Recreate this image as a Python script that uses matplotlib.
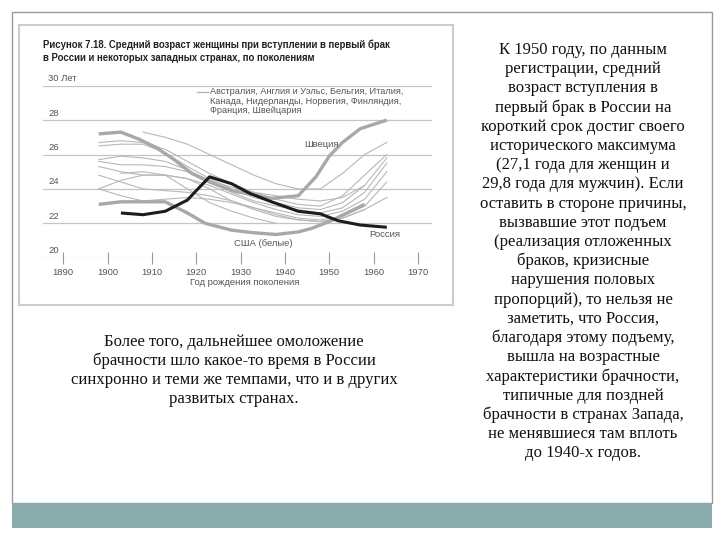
import matplotlib
matplotlib.use("Agg")
import matplotlib.pyplot as plt
from matplotlib.patches import Rectangle
from matplotlib.transforms import blended_transform_factory

W, H = 720, 540

# --- данные ---
years_full = [1898, 1903, 1908, 1913, 1918, 1923, 1928, 1933, 1938, 1943, 1948, 1953, 1958, 1963]

thin_lines = [
    ([1908, 1913, 1918, 1923, 1928, 1933, 1938, 1943, 1948, 1953, 1958, 1963],
     [27.3, 27.0, 26.6, 26.0, 25.4, 24.8, 24.3, 24.0, 24.0, 24.9, 26.0, 26.7]),
    (years_full, [26.7, 26.8, 26.7, 26.3, 25.6, 24.9, 24.3, 23.8, 23.4, 23.1, 23.0, 23.6, 24.8, 26.0]),
    (years_full, [26.5, 26.6, 26.6, 26.1, 25.3, 24.6, 24.0, 23.5, 23.2, 22.9, 22.8, 23.2, 24.2, 25.8]),
    (years_full, [25.7, 25.9, 25.8, 25.6, 25.1, 24.5, 23.8, 23.3, 23.0, 22.8, 22.6, 22.9, 23.8, 25.5]),
    (years_full, [25.3, 25.0, 24.8, 24.8, 24.6, 24.2, 23.7, 23.2, 22.8, 22.5, 22.4, 22.7, 23.4, 25.0]),
    (years_full, [24.8, 24.4, 24.0, 23.9, 23.8, 23.6, 23.3, 22.9, 22.6, 22.3, 22.2, 22.4, 23.0, 24.4]),
    (years_full, [24.0, 24.5, 24.8, 24.8, 24.6, 24.0, 23.3, 22.8, 22.4, 22.2, 22.1, 22.3, 22.8, 23.5]),
    (years_full[:-1], [24.0, 23.6, 23.3, 23.4, 23.5, 23.4, 23.2, 22.9, 22.5, 22.2, 22.1, 22.3, 22.8]),
    ([1903, 1908, 1913, 1918, 1923, 1928, 1933, 1938],
     [24.9, 25.0, 24.8, 24.0, 23.2, 22.7, 22.3, 22.0]),
    (years_full[:-1], [25.6, 25.4, 25.4, 25.3, 25.0, 24.5, 24.1, 23.8, 23.6, 23.4, 23.3, 23.5, 24.2]),
]

sweden_years = [1898, 1903, 1907, 1911, 1915, 1919, 1923, 1928, 1932, 1937, 1943, 1947, 1950, 1953, 1957, 1963]
sweden_vals = [27.2, 27.3, 26.9, 26.4, 25.7, 24.9, 24.4, 23.9, 23.7, 23.45, 23.6, 24.7, 25.9, 26.7, 27.5, 28.0]

usa_years = [1898, 1903, 1913, 1918, 1922, 1928, 1933, 1938, 1943, 1946, 1950, 1954, 1958]
usa_vals = [23.1, 23.25, 23.25, 22.6, 22.0, 21.6, 21.45, 21.35, 21.5, 21.7, 22.1, 22.6, 23.1]

russia_years = [1903, 1908, 1913, 1918, 1920, 1923, 1928, 1932, 1937, 1943, 1948, 1952, 1957, 1963]
russia_vals = [22.6, 22.5, 22.7, 23.35, 23.9, 24.7, 24.3, 23.75, 23.25, 22.7, 22.55, 22.15, 21.9, 21.77]

y_levels = [20, 22, 24, 26, 28, 30]
y_labels = ["20", "22", "24", "26", "28", "30 Лет"]
x_ticks = [1890, 1900, 1910, 1920, 1930, 1940, 1950, 1960, 1970]

legend_lines = ["Австралия, Англия и Уэльс, Бельгия, Италия,",
                "Канада, Нидерланды, Норвегия, Финляндия,",
                "Франция, Швейцария"]

right_text = [
    "К 1950 году, по данным",
    "регистрации, средний",
    "возраст вступления в",
    "первый брак в России на",
    "короткий срок достиг своего",
    "исторического максимума",
    "(27,1 года для женщин и",
    "29,8 года для мужчин). Если",
    "оставить в стороне причины,",
    "вызвавшие этот подъем",
    "(реализация отложенных",
    "браков, кризисные",
    "нарушения половых",
    "пропорций), то нельзя не",
    "заметить, что Россия,",
    "благодаря этому подъему,",
    "вышла на возрастные",
    "характеристики брачности,",
    "типичные для поздней",
    "брачности в странах Запада,",
    "не менявшиеся там вплоть",
    "до 1940-х годов.",
]
left_text = [
    "Более того, дальнейшее омоложение",
    "брачности шло какое-то время в России",
    "синхронно и теми же темпами, что и в других",
    "развитых странах.",
]

plt.rcParams['font.family'] = ['Liberation Sans', 'DejaVu Sans']

fig = plt.figure(figsize=(W / 100, H / 100), dpi=100)

def fx(px):
    return px / W

def fy(py):
    return 1 - py / H

# рамка слайда и полоса снизу
fig.patches.append(Rectangle((fx(12), fy(503)), fx(700), 491 / H, transform=fig.transFigure,
                             fill=False, edgecolor='#9a9a9a', lw=1.0))
fig.patches.append(Rectangle((fx(12), fy(528)), fx(700), 25 / H, transform=fig.transFigure,
                             facecolor='#8aabab', edgecolor='none'))
# рамка рисунка
fig.patches.append(Rectangle((fx(19), fy(305)), fx(434), 280 / H, transform=fig.transFigure,
                             fill=False, edgecolor='#cccccc', lw=1.5))

# оси графика
ax_l, ax_r, ax_b, ax_t = 42.7, 432, 257.7, 85.7
ax = fig.add_axes([fx(ax_l), fy(ax_b), (ax_r - ax_l) / W, (ax_b - ax_t) / H])
ax.set_xlim(1885.35, 1973.2)
ax.set_ylim(20, 30)
for s in ax.spines.values():
    s.set_visible(False)
ax.patch.set_alpha(0)

for v in y_levels:
    ax.axhline(v, color='#c4c4c4', lw=0.9, zorder=1)

trans = blended_transform_factory(ax.transAxes, ax.transData)
for v, lab in zip(y_levels, y_labels):
    ax.annotate(lab, (0.014, v), xycoords=trans, xytext=(0, 5), textcoords='offset points',
                va='center', ha='left', fontsize=6.8, color='#555555')
ax.set_yticks([])

ax.set_xticks(x_ticks)
ax.tick_params(axis='x', direction='inout', length=9, width=0.8, color='#9a9a9a',
               labelsize=6.8, labelcolor='#555555', pad=3)
ax.set_xlabel("Год рождения поколения", fontsize=6.8, color='#555555')
ax.xaxis.set_label_coords((245 - ax_l) / (ax_r - ax_l), -0.12)

for yrs, vals in thin_lines:
    ax.plot(yrs, vals, color='#b8b8b8', lw=0.8, zorder=2)
ax.plot(sweden_years, sweden_vals, color='#a8a8a8', lw=2.4, zorder=3, solid_capstyle='butt')
ax.plot(usa_years, usa_vals, color='#a8a8a8', lw=2.4, zorder=3, solid_capstyle='butt')
ax.plot(russia_years, russia_vals, color='#1c1c1c', lw=2.2, zorder=4, solid_capstyle='butt')

ax.text(1948.2, 26.61, "Швеция", fontsize=6.8, color='#555555', ha='center', va='center')
ax.text(1935.1, 20.85, "США (белые)", fontsize=6.8, color='#555555', ha='center', va='center')
ax.text(1962.6, 21.32, "Россия", fontsize=6.8, color='#555555', ha='center', va='center')

# легенда
ax.plot([0.3956, 0.4254], [0.965, 0.965], transform=ax.transAxes, color='#b0b0b0', lw=0.9, clip_on=False)
for i, line in enumerate(legend_lines):
    ax.text(0.4298, 0.965 - i * 0.054, line, transform=ax.transAxes, fontsize=6.6,
            color='#555555', ha='left', va='center')

# заголовок рисунка
fig.text(fx(43), fy(45), "Рисунок 7.18. Средний возраст женщины при вступлении в первый брак",
         fontsize=6.9, fontweight='bold', color='#222222', ha='left', va='center')
fig.text(fx(43), fy(57.7), "в России и некоторых западных странах, по поколениям",
         fontsize=6.9, fontweight='bold', color='#222222', ha='left', va='center')

# текст слайда
for i, line in enumerate(right_text):
    fig.text(fx(583), fy(50 + i * 19.2), line, fontsize=12, family='Liberation Serif',
             color='#111111', ha='center', va='center')
for i, line in enumerate(left_text):
    fig.text(fx(234), fy(341.5 + i * 19.2), line, fontsize=12, family='Liberation Serif',
             color='#111111', ha='center', va='center')

fig.savefig("out.png", dpi=100)
